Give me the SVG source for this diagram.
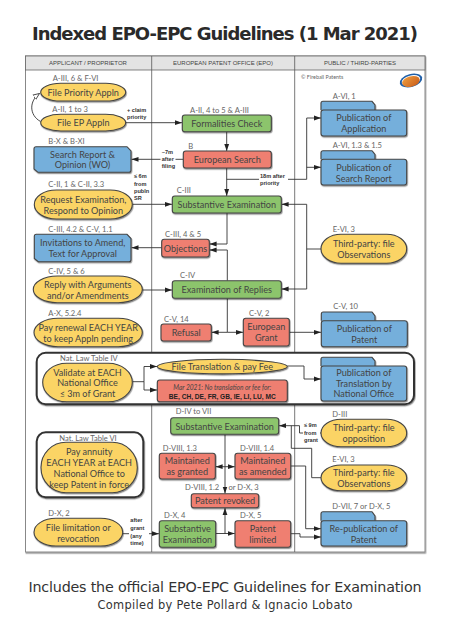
<svg xmlns="http://www.w3.org/2000/svg" width="450" height="636" viewBox="0 0 450 636">
<style>
text{font-family:"Lato","Noto Sans",sans-serif;fill:#444}
.n{font-size:9.1px;text-anchor:middle}
.r{font-size:7.6px;fill:#666}
.s{font-family:"Liberation Sans",sans-serif;font-size:5.6px;font-weight:bold;fill:#333}
.h{font-family:"Liberation Sans",sans-serif;font-size:6px;text-anchor:middle;fill:#444}
.y,.b,.g,.o{stroke:#444;stroke-width:1.1;filter:url(#sh)}
.y{fill:#fbd465}.b{fill:#74afdb}.g{fill:#8cc46c}.o{fill:#ef7f71}
.box{fill:#fff;stroke:#333;stroke-width:2;filter:url(#sh)}
.l{fill:none;stroke:#333;stroke-width:.9}
.a{marker-end:url(#ar)}
.w{fill:#fff;stroke:none}
</style>
<defs>
<filter id="sh" x="-10%" y="-15%" width="125%" height="140%"><feDropShadow dx=".6" dy="1.2" stdDeviation=".7" flood-color="#000" flood-opacity=".45"/></filter>
<marker id="ar" markerWidth="8" markerHeight="6" refX="7" refY="3" orient="auto" markerUnits="userSpaceOnUse"><path d="M0 .6L7 3L0 5.4z" fill="#222"/></marker>
<marker id="ho" markerWidth="8" markerHeight="7" refX="6.5" refY="3.5" orient="auto" markerUnits="userSpaceOnUse"><path d="M0 .8L6.5 3.5L0 6.2z" fill="#fff" stroke="#333" stroke-width=".8"/></marker>
<linearGradient id="ball" x1="0" y1="0" x2="1" y2="1"><stop offset="0" stop-color="#f0a040"/><stop offset="1" stop-color="#c85a18"/></linearGradient>
</defs>
<rect width="450" height="636" fill="#fff"/>
<text x="225" y="40" font-size="18" font-weight="bold" text-anchor="middle" textLength="386" style="font-family:'DejaVu Sans',sans-serif;fill:#2a2a2a">Indexed EPO-EPC Guidelines (1 Mar 2021)</text>
<g id="frame">
<rect x="25.5" y="56" width="399.5" height="496" fill="#fff" stroke="#888" stroke-width="1" filter="url(#sh)"/>
<rect x="25.5" y="56" width="399.5" height="14" fill="#e3e3e3" stroke="#666" stroke-width=".8"/>
<path d="M151.7 56V552M294.7 56V552" stroke="#555" stroke-width=".8" fill="none"/>
<text class="h" x="88" y="65">APPLICANT / PROPRIETOR</text>
<text class="h" x="223" y="65">EUROPEAN PATENT OFFICE (EPO)</text>
<text class="h" x="360" y="65">PUBLIC / THIRD-PARTIES</text>
<text x="301" y="78.7" font-size="5.4" style="fill:#666">© Fireball Patents</text>
</g>
<g id="logo">
<ellipse cx="411" cy="80.5" rx="11.5" ry="6.5" fill="#1f5fa8" transform="rotate(-15 411 80.5)"/>
<ellipse cx="411" cy="80.5" rx="9.5" ry="5" fill="#fff" transform="rotate(-15 411 80.5)"/>
<ellipse cx="411" cy="81.5" rx="9" ry="5.2" fill="url(#ball)" transform="rotate(-15 411 81.5)"/>
</g>
<g id="box-table-iv"><rect class="box" x="36.7" y="352.7" width="377.3" height="51.6" rx="9"/></g>
<g id="box-table-vi"><rect class="box" x="36.7" y="432.3" width="106.6" height="65" rx="9"/></g>
<g id="connectors">
<path class="l" d="M40.5 121.5C29 115 29 101 39.5 93.5" marker-end="url(#ho)"/>
<path class="l a" d="M125.7 122.7H182"/>
<path class="l a" d="M183 159.3H131.5"/>
<path class="l a" d="M226.7 131.7V151"/>
<path class="l a" d="M226.7 168V196"/>
<path class="l a" d="M226.7 179.3H306.7V118H321"/>
<path class="l a" d="M306.7 167.3H321"/>
<path class="l a" d="M132.3 204.3H172"/>
<path class="l a" d="M321 249H306.7V204.3H281.6"/>
<path class="l a" d="M306.7 249V289H281.6"/>
<path class="l a" d="M227 213V244H209.6"/>
<path class="l a" d="M227.3 280.7V250H209.6"/>
<path class="l a" d="M161.7 247.7H131.5"/>
<path class="l a" d="M142.3 290H172"/>
<path class="l" d="M227.3 298.3V332.3"/>
<path class="l a" d="M227.3 332.3H211.6"/>
<path class="l a" d="M227.3 332.3H243"/>
<path class="l a" d="M289.3 332.3H321"/>
<path class="l a" d="M132.3 381.7H144V366.5H157"/>
<path class="l a" d="M144 381.7V390H157"/>
<path class="l a" d="M287.3 366H304V379H321"/>
<path class="l a" d="M225 434.3V493.5"/>
<path class="l a" d="M225 466.7H215.6"/>
<path class="l a" d="M225 466.7H234.8"/>
<path class="l a" d="M215.7 533.5H234.8"/>
<path class="l a" d="M225 533.5V507.9"/>
<path class="l a" d="M122.7 533.7H159"/>
<path class="l a" d="M290.7 466H305.7V528.7H321"/>
<path class="l a" d="M290.7 533.7H300V537H321"/>
<path class="l a" d="M321 433H299.5V425.7H279"/>
<path class="l" d="M291.3 425.7V448.3H311.7V477.7H321"/>
</g>
<g id="applicant-labels">
<text class="r" x="52.7" y="80.7">A-III, 6 &amp; F-VI</text>
<text class="r" x="52.3" y="112">A-II, 1 to 3</text>
<text class="r" x="48.3" y="144">B-X &amp; B-XI</text>
<text class="r" x="48.3" y="186.7">C-II, 1 &amp; C-II, 3.3</text>
<text class="r" x="48.3" y="232">C-III, 4.2 &amp; C-V, 1.1</text>
<text class="r" x="48.3" y="274">C-IV, 5 &amp; 6</text>
<text class="r" x="48.3" y="315.7">A-X, 5.2.4</text>
<text class="r" x="60" y="361">Nat. Law Table IV</text>
<text class="r" x="59.3" y="440.7">Nat. Law Table VI</text>
<text class="r" x="48.3" y="516">D-X, 2</text>
</g>
<g id="epo-labels">
<text class="r" x="190" y="112.7">A-II, 4 to 5 &amp; A-III</text>
<text class="r" x="188.3" y="148.7">B</text>
<text class="r" x="176.7" y="193.3">C-III</text>
<text class="r" x="165" y="236.7">C-III, 4 &amp; 5</text>
<text class="r" x="180" y="277.7">C-IV</text>
<text class="r" x="164" y="321.7">C-V, 14</text>
<text class="r" x="249" y="315.7">C-V, 2</text>
<text class="r" x="175.7" y="414.3">D-IV to VII</text>
<text class="r" x="162.7" y="451">D-VIII, 1.3</text>
<text class="r" x="240" y="451">D-VIII, 1.4</text>
<text class="r" x="185" y="489.7">D-VIII, 1.2</text>
<text class="r" x="228.5" y="489.7">or D-X, 3</text>
<text class="r" x="164" y="518.3">D-X, 4</text>
<text class="r" x="240" y="518.3">D-X, 5</text>
</g>
<g id="public-labels">
<text class="r" x="332.7" y="99">A-VI, 1</text>
<text class="r" x="332.7" y="148.3">A-VI, 1.3 &amp; 1.5</text>
<text class="r" x="332.7" y="232.3">E-VI, 3</text>
<text class="r" x="333.3" y="309">C-V, 10</text>
<text class="r" x="332.3" y="416.7">D-III</text>
<text class="r" x="332.3" y="462.3">E-VI, 3</text>
<text class="r" x="332.3" y="509.3">D-VII, 7 or D-X, 5</text>
</g>
<g id="connector-labels">
<rect class="w" x="126" y="105" width="25" height="15"/>
<text class="s" x="127" y="111.5">+ claim</text><text class="s" x="127" y="118.5">priority</text>
<rect class="w" x="160.5" y="148" width="15" height="21"/>
<text class="s" x="161.7" y="153.5">~7m</text><text class="s" x="161.7" y="160.8">after</text><text class="s" x="161.7" y="168">filing</text>
<text class="s" x="134" y="178.3">≤ 6m</text><text class="s" x="134" y="185.5">from</text><text class="s" x="134" y="192.7">publn</text><text class="s" x="134" y="200">SR</text>
<rect class="w" x="259" y="172" width="29" height="14"/>
<text class="s" x="260" y="177.5">18m after</text><text class="s" x="260" y="184.8">priority</text>
<rect class="w" x="303" y="421" width="17" height="22"/>
<text class="s" x="304" y="427.3">≤ 9m</text><text class="s" x="304" y="435">from</text><text class="s" x="304" y="442.3">grant</text>
<rect class="w" x="129" y="517" width="20" height="29"/>
<text class="s" x="130.3" y="522.3">after</text><text class="s" x="130.3" y="530">grant</text><text class="s" x="130.3" y="537.5">(any</text><text class="s" x="130.3" y="545">time)</text>
</g>
<g id="file-priority"><rect class="y" x="40.7" y="83.3" width="85" height="17.7" rx="20" ry="8.85"/><text class="n" x="83.2" y="95.5">File Priority Appln</text></g>
<g id="file-ep"><rect class="y" x="40.7" y="114.3" width="85" height="16.7" rx="20" ry="8.35"/><text class="n" x="83.2" y="126">File EP Appln</text></g>
<g id="search-report"><path class="b" d="M36 146.7H127L131 151V170.3Q131 172.3 129 172.3H38L34 169V148.7Q34 146.7 36 146.7Z"/><text class="n" x="82.5" y="157.5">Search Report &amp;</text><text class="n" x="82.5" y="168.3">Opinion (WO)</text></g>
<g id="request-exam"><rect class="y" x="34.3" y="190" width="98" height="29" rx="22" ry="14.5"/><text class="n" x="83.3" y="203">Request Examination,</text><text class="n" x="83.3" y="214">Respond to Opinion</text></g>
<g id="invitations"><path class="b" d="M36.3 234.3H127L131 238.5V259.7Q131 261.7 129 261.7H38.3L34.3 258.5V236.3Q34.3 234.3 36.3 234.3Z"/><text class="n" x="82.7" y="246">Invitations to Amend,</text><text class="n" x="82.7" y="257">Text for Approval</text></g>
<g id="reply"><rect class="y" x="33.3" y="276" width="109" height="26.7" rx="24" ry="13.3"/><text class="n" x="87.8" y="288">Reply with Arguments</text><text class="n" x="87.8" y="299">and/or Amendments</text></g>
<g id="pay-renewal"><rect class="y" x="34" y="318.3" width="108.3" height="28.4" rx="24" ry="14.2"/><text class="n" x="88.2" y="331">Pay renewal EACH YEAR</text><text class="n" x="88.2" y="342">to keep Appln pending</text></g>
<g id="validate"><rect class="y" x="42.7" y="363.3" width="89.6" height="38.4" rx="24" ry="19.2"/><text class="n" x="87.5" y="375.5">Validate at EACH</text><text class="n" x="87.5" y="386.3">National Office</text><text class="n" x="87.5" y="397">≤ 3m of Grant</text></g>
<g id="file-translation"><ellipse class="y" cx="222.3" cy="366.6" rx="65" ry="7.3"/><text class="n" x="222.3" y="369.8">File Translation &amp; pay Fee</text></g>
<g id="no-translation"><rect class="o" x="157.3" y="380" width="130" height="21.7" rx="2.5"/><text x="222.3" y="389.5" font-size="6.6" font-style="italic" text-anchor="middle">Mar 2021: No translation or fee for:</text><text x="222.3" y="398.5" font-size="6.6" font-weight="bold" text-anchor="middle" style="font-family:'Liberation Sans',sans-serif;fill:#222">BE, CH, DE, FR, GB, IE, LI, LU, MC</text></g>
<g id="pay-annuity"><rect class="y" x="41" y="442.3" width="96.3" height="50.4" rx="25" ry="25"/><text class="n" x="89.2" y="455">Pay annuity</text><text class="n" x="89.2" y="466">EACH YEAR at EACH</text><text class="n" x="89.2" y="476.5">National Office to</text><text class="n" x="89.2" y="487.5">keep Patent in force</text></g>
<g id="file-limitation"><rect class="y" x="34" y="518.3" width="88.7" height="27.7" rx="22" ry="13.85"/><text class="n" x="78.3" y="530.5">File limitation or</text><text class="n" x="78.3" y="541.5">revocation</text></g>
<g id="formalities"><rect class="g" x="182.3" y="115" width="89" height="16.7" rx="2.5"/><text class="n" x="226.8" y="126.8">Formalities Check</text></g>
<g id="european-search"><rect class="o" x="183.3" y="151" width="88" height="17" rx="2.5"/><text class="n" x="227.3" y="163">European Search</text></g>
<g id="substantive-1"><rect class="g" x="172.3" y="196" width="109" height="17" rx="2.5"/><text class="n" x="226.8" y="208">Substantive Examination</text></g>
<g id="objections"><rect class="o" x="161.7" y="239.3" width="47.6" height="17.7" rx="2.5"/><text class="n" x="185.5" y="251.5">Objections</text></g>
<g id="exam-replies"><rect class="g" x="172.3" y="280.7" width="109" height="17.6" rx="2.5"/><text class="n" x="226.8" y="293">Examination of Replies</text></g>
<g id="refusal"><rect class="o" x="161" y="324" width="50.3" height="17" rx="2.5"/><text class="n" x="186.2" y="336">Refusal</text></g>
<g id="grant"><rect class="o" x="243.3" y="318.3" width="46" height="27.7" rx="2.5"/><text class="n" x="266.3" y="330">European</text><text class="n" x="266.3" y="341">Grant</text></g>
<g id="substantive-2"><rect class="g" x="170.7" y="417.7" width="108" height="16.6" rx="2.5"/><text class="n" x="224.7" y="429.7">Substantive Examination</text></g>
<g id="maintained-granted"><rect class="o" x="159.3" y="453.3" width="56" height="25.7" rx="2.5"/><text class="n" x="187.3" y="464">Maintained</text><text class="n" x="187.3" y="475">as granted</text></g>
<g id="maintained-amended"><rect class="o" x="235" y="453.3" width="55.7" height="25.7" rx="2.5"/><text class="n" x="262.8" y="464">Maintained</text><text class="n" x="262.8" y="475">as amended</text></g>
<g id="patent-revoked"><rect class="o" x="191.3" y="493.7" width="67.4" height="14" rx="2.5"/><text class="n" x="225" y="503.8">Patent revoked</text></g>
<g id="substantive-3"><rect class="g" x="159.3" y="520.7" width="56.4" height="26.6" rx="2.5"/><text class="n" x="187.5" y="532">Substantive</text><text class="n" x="187.5" y="543">Examination</text></g>
<g id="patent-limited"><rect class="o" x="235" y="520.7" width="55.7" height="26.6" rx="2.5"/><text class="n" x="262.8" y="532">Patent</text><text class="n" x="262.8" y="543">limited</text></g>
<g id="pub-application"><path class="b" d="M321 110V103.3Q321 101.3 323 101.3H372L375 105V110"/><rect class="b" x="321" y="110" width="85.7" height="26" rx="2.5"/><text class="n" x="363.8" y="121">Publication of</text><text class="n" x="363.8" y="132">Application</text></g>
<g id="pub-search"><path class="b" d="M321 159.3V152.7Q321 150.7 323 150.7H372L375 154.5V159.3"/><rect class="b" x="321" y="159.3" width="85.7" height="25.7" rx="2.5"/><text class="n" x="363.8" y="170.5">Publication of</text><text class="n" x="363.8" y="181.5">Search Report</text></g>
<g id="third-party-obs-1"><rect class="y" x="321" y="234.3" width="85.7" height="29" rx="20" ry="14.5"/><text class="n" x="363.8" y="247">Third-party: file</text><text class="n" x="363.8" y="258">Observations</text></g>
<g id="pub-patent"><path class="b" d="M321.3 320.7V314Q321.3 312 323.3 312H372L375 316V320.7"/><rect class="b" x="321.3" y="320.7" width="86" height="26" rx="2.5"/><text class="n" x="364.3" y="332">Publication of</text><text class="n" x="364.3" y="343">Patent</text></g>
<g id="pub-translation"><path class="b" d="M321 366V359.3Q321 357.3 323 357.3H372L375 361V366"/><rect class="b" x="321" y="366" width="85.7" height="35" rx="2.5"/><text class="n" x="363.8" y="375.5">Publication of</text><text class="n" x="363.8" y="386.5">Translation by</text><text class="n" x="363.8" y="397">National Office</text></g>
<g id="third-party-opposition"><rect class="y" x="321" y="419.3" width="85.7" height="27.4" rx="20" ry="13.7"/><text class="n" x="363.8" y="431">Third-party: file</text><text class="n" x="363.8" y="442">opposition</text></g>
<g id="third-party-obs-2"><rect class="y" x="321" y="465" width="85.7" height="25.7" rx="20" ry="12.85"/><text class="n" x="363.8" y="476">Third-party: file</text><text class="n" x="363.8" y="487">Observations</text></g>
<g id="re-publication"><path class="b" d="M321 520.7V513.7Q321 511.7 323 511.7H372L375 516V520.7"/><rect class="b" x="321" y="520.7" width="85.7" height="25.3" rx="2.5"/><text class="n" x="363.8" y="531.5">Re-publication of</text><text class="n" x="363.8" y="542.5">Patent</text></g>
<text x="225" y="591.5" font-size="14.3" text-anchor="middle" textLength="393" style="font-family:'DejaVu Sans',sans-serif;fill:#333">Includes the official EPO-EPC Guidelines for Examination</text>
<text x="225" y="609" font-size="11.4" text-anchor="middle" textLength="255" style="font-family:'DejaVu Sans',sans-serif;fill:#333">Compiled by Pete Pollard &amp; Ignacio Lobato</text>
</svg>
